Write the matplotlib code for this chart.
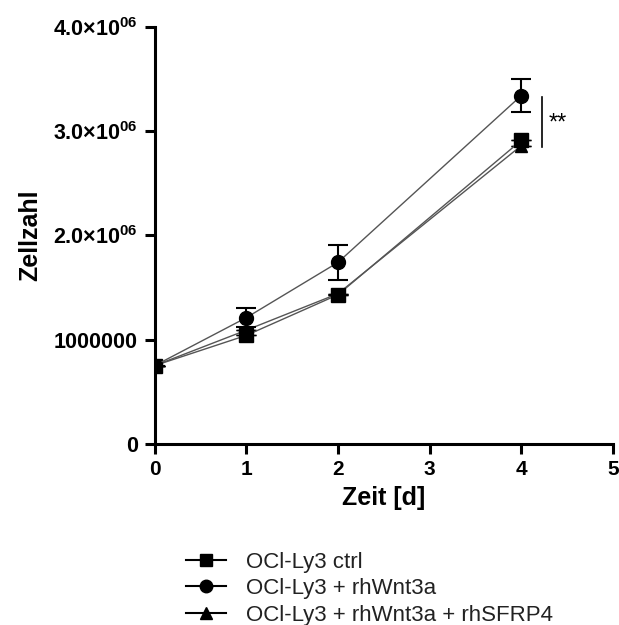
import matplotlib
matplotlib.use("Agg")
import matplotlib.pyplot as plt
from matplotlib.lines import Line2D

plt.rcParams['font.family'] = ['Liberation Sans', 'DejaVu Sans']
plt.rcParams['mathtext.fontset'] = 'custom'
plt.rcParams['mathtext.rm'] = 'Liberation Sans:bold'
plt.rcParams['mathtext.bf'] = 'Liberation Sans:bold'
plt.rcParams['mathtext.default'] = 'rm'

days = [0, 1, 2, 4]
ctrl = [0.75e6, 1.04e6, 1.43e6, 2.91e6]
ctrl_err = [0, 0, 0, 0]
wnt = [0.75e6, 1.21e6, 1.74e6, 3.34e6]
wnt_err = [0, 0.09e6, 0.17e6, 0.16e6]
sfrp = [0.75e6, 1.09e6, 1.44e6, 2.86e6]
sfrp_err = [0, 0, 0, 0]
labels = ['OCl-Ly3 ctrl', 'OCl-Ly3 + rhWnt3a', 'OCl-Ly3 + rhWnt3a + rhSFRP4']
yticks = [0, 1e6, 2e6, 3e6, 4e6]
yticklabels = ['0', '1000000', '2.0×10$^{06}$', '3.0×10$^{06}$', '4.0×10$^{06}$']
xticks = [0, 1, 2, 3, 4, 5]

fig = plt.figure(figsize=(6.19, 6.25), dpi=100)
ax = fig.add_axes([0.25, 0.29, 0.74, 0.667])

line_c = '#555555'
ax.errorbar(days, sfrp, yerr=sfrp_err, color=line_c, lw=1, marker='^', ms=9,
            mfc='black', mec='black', ecolor='black', capsize=7, elinewidth=1.5, zorder=3)
ax.errorbar(days, ctrl, yerr=ctrl_err, color=line_c, lw=1, marker='s', ms=10,
            mfc='black', mec='black', ecolor='black', capsize=7, elinewidth=1.5, zorder=4)
ax.errorbar(days, wnt, yerr=wnt_err, color=line_c, lw=1, marker='o', ms=10,
            mfc='black', mec='black', ecolor='black', capsize=7, elinewidth=1.5, capthick=1.5, zorder=5)

ax.set_xlim(0, 5)
ax.set_ylim(0, 4e6)
ax.set_xticks(xticks)
ax.set_xticklabels([str(x) for x in xticks], fontweight='bold', fontsize=15)
ax.set_yticks(yticks)
ax.set_yticklabels(yticklabels, fontweight='bold', fontsize=15.5)
for s in ['top', 'right']:
    ax.spines[s].set_visible(False)
for s in ['left', 'bottom']:
    ax.spines[s].set_linewidth(2.2)
ax.tick_params(width=2.2, length=7, direction='out', pad=5)
ax.set_xlabel('Zeit [d]', fontsize=18, fontweight='bold', labelpad=5)
ax.set_ylabel('Zellzahl', fontsize=18, fontweight='bold', labelpad=8)

# significance bar
ax.plot([4.23, 4.23], [2.85e6, 3.33e6], color='black', lw=1.2, clip_on=False)
ax.text(4.3, 3.07e6, '**', fontsize=17, ha='left', va='center')

handles = [Line2D([], [], color='black', lw=1.5, marker=m, ms=ms, mfc='black', mec='black')
           for m, ms in [('s', 9), ('o', 9), ('^', 9)]]
leg = fig.legend(handles, labels, loc='upper left', bbox_to_anchor=(0.30, 0.117), frameon=False,
                 fontsize=16, handlelength=1.8, labelspacing=0.24, handletextpad=0.9,
                 borderaxespad=0, borderpad=0)
for t in leg.get_texts():
    t.set_color('#222222')

fig.savefig('out.png', dpi=100)
